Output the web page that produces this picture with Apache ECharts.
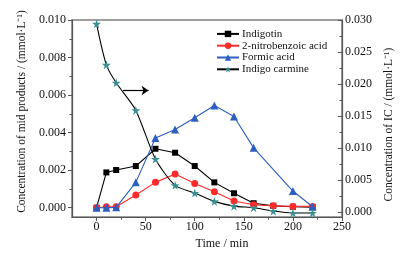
<!DOCTYPE html>
<html><head><meta charset="utf-8">
<script src="https://cdn.jsdelivr.net/npm/echarts@6/dist/echarts.min.js"></script>
<style>html,body{margin:0;padding:0;background:#fff}#c{width:409px;height:255px}</style>
</head><body><div id="c"></div>
<script>
var time = [0, 10, 20, 40, 60, 80, 100, 120, 140, 160, 180, 200, 220];
var indigotin = [0, 0.00188, 0.00201, 0.00222, 0.00314, 0.00293, 0.00222, 0.00135, 0.00077, 0.00024, 0.0001, 0.00005, 0.00003];
var nitrobenzoic = [0, 0.00005, 0.00005, 0.00068, 0.00135, 0.00179, 0.00129, 0.00085, 0.00036, 0.00016, 0.0001, 0.00007, 0.00007];
var formic = [0, 0, 0.00002, 0.00135, 0.00371, 0.00417, 0.00479, 0.00545, 0.00486, 0.00319, null, 0.00089, 0.00005];
var carmine = [0.0294, 0.0230, 0.0202, 0.0159, 0.0083, 0.0042, 0.0030, 0.0017, 0.00096, 0.00072, 0.0002, -0.0001, -0.0001];
var xMajor = [0, 50, 100, 150, 200, 250];
var xMinor = [25, 75, 125, 175, 225];
var yLeftMajor = [0, 0.002, 0.004, 0.006, 0.008, 0.010];
var yLeftMinor = [0.001, 0.003, 0.005, 0.007, 0.009];
var yRightMajor = [0, 0.005, 0.010, 0.015, 0.020, 0.025, 0.030];
var yRightMinor = [0.0025, 0.0075, 0.0125, 0.0175, 0.0225, 0.0275];
var names = ['Indigotin', '2-nitrobenzoic acid', 'Formic acid', 'Indigo carmine'];

function pairs(v) { return time.map(function (t, i) { return [t, v[i]]; }); }
var FONT = 'Liberation Serif';
var AX = '#555';
var star = 'path://M50,0 L61,35 L98,35 L68,57 L79,91 L50,70 L21,91 L32,57 L2,35 L39,35 Z';

var chart = echarts.init(document.getElementById('c'));
chart.setOption({
  animation: false,
  textStyle: { fontFamily: FONT },
  grid: { left: 72, right: 67, top: 20, bottom: 33, show: true, borderColor: '#808080', borderWidth: 1.5 },
  legend: {
    orient: 'vertical', left: 211, top: 23, itemWidth: 22, itemHeight: 8, itemGap: 0,
    data: names,
    textStyle: { fontFamily: FONT, fontSize: 11, color: '#111', lineHeight: 11.8, padding: [0, 0, 0, -2] }
  },
  xAxis: [{
    type: 'value', min: -25, max: 250, interval: 25, position: 'bottom',
    name: 'Time / min', nameLocation: 'middle', nameGap: 17,
    nameTextStyle: { fontFamily: FONT, fontSize: 12, color: '#111', padding: [0, 0, 0, 30] },
    axisLine: { onZero: false, lineStyle: { color: AX, width: 1.2 } },
    axisTick: { customValues: xMajor, length: 4, lineStyle: { color: AX } },
    axisLabel: { customValues: xMajor, fontFamily: FONT, fontSize: 12, color: '#111', margin: 4 },
    splitLine: { show: false }
  }, {
    type: 'value', min: -25, max: 250, position: 'bottom',
    axisLine: { show: false, onZero: false },
    axisTick: { customValues: xMinor, length: 2.5, lineStyle: { color: AX } },
    axisLabel: { show: false }, splitLine: { show: false }
  }],
  yAxis: [{
    type: 'value', min: -0.0005, max: 0.010, position: 'left',
    name: 'Concentration of mid products / (mmol\u00b7L\u207b\u00b9)', nameLocation: 'middle', nameGap: 37, nameRotate: 90,
    nameTextStyle: { fontFamily: FONT, fontSize: 11.5, color: '#111', padding: [0, 0, 0, 14] },
    axisLine: { show: true, onZero: false, lineStyle: { color: AX, width: 1.2 } },
    axisTick: { show: true, customValues: yLeftMajor, length: 4, lineStyle: { color: AX } },
    axisLabel: { customValues: yLeftMajor, fontFamily: FONT, fontSize: 12, color: '#111', margin: 6,
      formatter: function (v) { return v.toFixed(3); } },
    splitLine: { show: false }
  }, {
    type: 'value', min: -0.00075, max: 0.030, position: 'right',
    name: 'Concentration of IC / (mmol\u00b7L\u207b\u00b9)', nameLocation: 'middle', nameGap: 30, nameRotate: 90,
    nameTextStyle: { fontFamily: FONT, fontSize: 11.5, color: '#111', padding: [0, 12, 0, 0] },
    axisLine: { show: true, onZero: false, lineStyle: { color: AX, width: 1.2 } },
    axisTick: { show: true, inside: true, customValues: yRightMajor, length: 4, lineStyle: { color: AX } },
    axisLabel: { customValues: yRightMajor, fontFamily: FONT, fontSize: 12, color: '#111', margin: 3,
      formatter: function (v) { return v.toFixed(3); } },
    splitLine: { show: false }
  }, {
    type: 'value', min: -0.0005, max: 0.010, position: 'left',
    axisLine: { show: false, onZero: false },
    axisTick: { show: true, customValues: yLeftMinor, length: 2.5, lineStyle: { color: AX } },
    axisLabel: { show: false }, splitLine: { show: false }
  }, {
    type: 'value', min: -0.00075, max: 0.030, position: 'right',
    axisLine: { show: false, onZero: false },
    axisTick: { show: true, inside: true, customValues: yRightMinor, length: 2.5, lineStyle: { color: AX } },
    axisLabel: { show: false }, splitLine: { show: false }
  }],
  series: [{
    name: names[0], type: 'line', xAxisIndex: 0, yAxisIndex: 0, data: pairs(indigotin),
    symbol: 'rect', symbolSize: 6, lineStyle: { color: '#000', width: 1.1 }, itemStyle: { color: '#000' }, z: 3
  }, {
    name: names[1], type: 'line', xAxisIndex: 0, yAxisIndex: 0, data: pairs(nitrobenzoic),
    symbol: 'circle', symbolSize: 7, lineStyle: { color: '#ff2b2b', width: 1.1 }, itemStyle: { color: '#ff2b2b' }, z: 4
  }, {
    name: names[2], type: 'line', xAxisIndex: 0, yAxisIndex: 0, data: pairs(formic), connectNulls: true,
    symbol: 'triangle', symbolSize: 8, lineStyle: { color: '#2d5fc0', width: 1.1 }, itemStyle: { color: '#2d5fc0' }, z: 5
  }, {
    name: names[3], type: 'line', xAxisIndex: 0, yAxisIndex: 1, data: pairs(carmine), smooth: 0.25,
    symbol: star, symbolSize: 9, lineStyle: { color: '#000', width: 1.1 }, itemStyle: { color: '#3a9090' }, z: 6,
    markLine: {
      silent: true, symbol: ['none', 'arrow'], symbolSize: 7,
      lineStyle: { color: '#000', width: 1.2, type: 'solid' }, label: { show: false },
      data: [[{ coord: [27, 0.019] }, { coord: [53, 0.019] }]]
    }
  }]
});
</script></body></html>
